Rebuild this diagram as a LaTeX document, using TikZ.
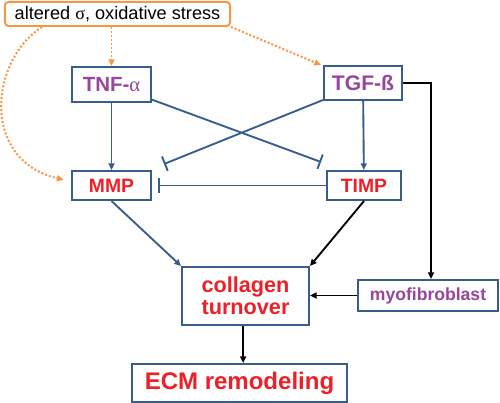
\documentclass[tikz,border=0pt]{standalone}
\usepackage{fontspec}
\setmainfont{Liberation Sans}
\newfontfamily\greekserif{Liberation Serif}
\usetikzlibrary{arrows.meta, positioning}

\definecolor{frameblue}{RGB}{56,93,138}
\definecolor{factorpurple}{RGB}{150,70,155}
\definecolor{outred}{RGB}{236,32,40}
\definecolor{stressorange}{RGB}{247,150,70}

\begin{document}
\begin{tikzpicture}[
  x=0.03cm, y=-0.03cm,
  box/.style={draw=frameblue, line width=1.7pt, fill=white, inner sep=0pt,
              align=center, font=\bfseries\fontsize{16.5}{19}\selectfont},
  factor/.style={box, text=factorpurple},
  target/.style={box, text=outred},
  stress/.style={draw=stressorange, line width=1.7pt, rounded corners=3pt,
                 inner sep=0pt, font=\fontsize{15.5}{18}\selectfont},
  act/.style={draw=frameblue, line width=1.6pt, -{Triangle[length=2mm, width=1.8mm]}},
  inh/.style={draw=frameblue, line width=1.6pt, -{Bar[width=4.6mm, line width=1.6pt]}},
  lead/.style={draw=black, line width=1.6pt, -{Triangle[length=2mm, width=1.8mm]}},
  dotarr/.style={draw=stressorange, line width=1.7pt, dash pattern=on 1.7pt off 1.7pt,
                 -{Triangle[length=2mm, width=1.8mm]}}]

  \useasboundingbox (0,0) rectangle (500,403);

  % stress input
  \node[stress, minimum width=6.75cm, minimum height=0.72cm] (stress) at (117.5,14)
    {altered {\greekserif σ}, oxidative stress};

  % growth factors
  \node[factor, minimum width=2.37cm, minimum height=1.05cm,
        font=\bfseries\fontsize{17.5}{20}\selectfont] (tnf) at (111.5,84.5)
    {TNF-{\greekserif\mdseries α}};
  \node[factor, minimum width=2.34cm, minimum height=1.02cm,
        font=\bfseries\fontsize{18}{20}\selectfont] (tgf) at (363,83) {TGF-ß};

  % proteases
  \node[target, minimum width=2.37cm, minimum height=0.87cm] (mmp) at (111.5,185.5) {MMP};
  \node[target, minimum width=2.22cm, minimum height=0.87cm] (timp) at (364,185.5) {TIMP};

  % matrix
  \node[target, minimum width=3.81cm, minimum height=1.74cm,
        font=\bfseries\fontsize{18.5}{19}\selectfont] (coll) at (245.5,296)
    {collagen\\turnover};
  \node[factor, minimum width=4.2cm, minimum height=0.93cm,
        font=\bfseries\fontsize{15}{17}\selectfont] (myo) at (428,295.5) {myofibroblast};
  \node[target, minimum width=6.45cm, minimum height=1.14cm,
        font=\bfseries\fontsize{20.5}{23}\selectfont] (ecm) at (239.5,383) {ECM remodeling};

  % stress arrows
  \draw[dotarr] (tnf.north |- stress.south) -- (tnf.north);
  \draw[dotarr] (stress.south east) -- ([xshift=-0.06cm]tgf.north west);
  \draw[dotarr] ([xshift=1.14cm]stress.south west)
    .. controls (-10,60) and (-20,160) .. ([xshift=-0.22cm,yshift=0.17cm]mmp.west);

  % activation / inhibition
  \draw[act] (tnf) -- (mmp);
  \draw[act] (tgf) -- (timp);
  \draw[inh] ([yshift=0.1cm]tnf.south east) -- ([xshift=-0.15cm,yshift=0.24cm]timp.north west);
  \draw[inh] ([yshift=0.03cm]tgf.south west) -- ([xshift=0.36cm,yshift=0.18cm]mmp.north east);
  \draw[inh, shorten >=0.18cm] (timp.west) -- (mmp.east);

  % to collagen turnover
  \draw[act] (mmp.south) -- (coll.north west);
  \draw[lead] (timp.south) -- (coll.north east);
  \draw[lead] (tgf.east) -| ([xshift=0.09cm]myo.north);
  \draw[lead] (myo.west) -- (myo.west -| coll.east);
  \draw[lead] ([xshift=-0.07cm]coll.south) -- ([xshift=-0.07cm]coll.south |- ecm.north);
\end{tikzpicture}
\end{document}
